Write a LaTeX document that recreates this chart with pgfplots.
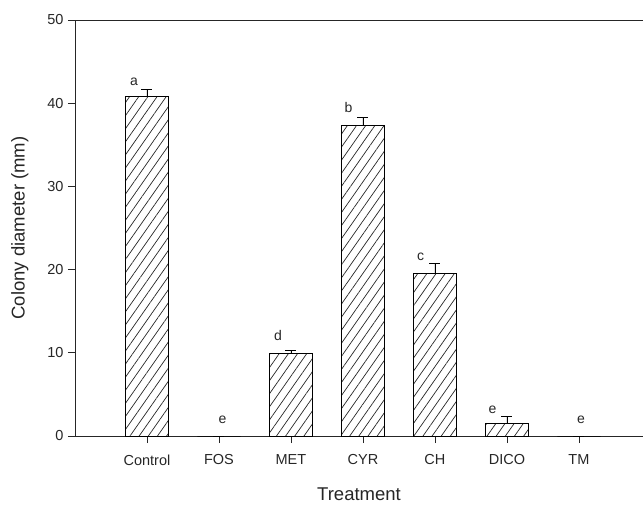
\documentclass[border=0pt]{standalone}
\usepackage{pgfplots}
\pgfplotsset{compat=1.18}
\usetikzlibrary{patterns.meta}
\usepackage{fontspec}
\setmainfont{Liberation Sans}
\begin{document}
\begin{tikzpicture}
\begin{axis}[
  scale only axis,
  width=568pt, height=416pt,
  xmin=-1, xmax=6.89,
  ymin=0, ymax=50,
  axis lines*=left,
  axis line style={line width=0.8pt, black!85},
  xtick={0,1,2,3,4,5,6},
  xticklabels={Control,FOS,MET,CYR,CH,DICO,TM},
  ytick={0,10,20,30,40,50},
  tick align=outside,
  major tick length=7pt,
  tick style={line width=0.7pt, black!85},
  tick label style={font=\fontsize{14.5}{16}\selectfont, text=black!85},
  xticklabel style={yshift=-8pt},
  yticklabel style={xshift=-1pt},
  /pgf/number format/assume math mode=true,
  ylabel={Colony diameter (mm)},
  xlabel={Treatment},
  every axis y label/.style={at={(axis description cs:-0.097,0.5)}, rotate=90, anchor=center, font=\fontsize{18.5}{20}\selectfont, text=black!85},
  every axis x label/.style={at={(axis description cs:0.5,-0.14)}, anchor=center, font=\fontsize{18.5}{20}\selectfont, text=black!85},
  clip=false,
]
\addplot[ybar, bar width=0.6, draw=black, line width=0.8pt,
  pattern={Lines[angle=55,distance=7.5pt,line width=0.7pt]}, pattern color=black!85,
  error bars/.cd, y dir=plus, y explicit, error mark=|,
  error bar style={line width=0.8pt, black},
  error mark options={mark size=5.5pt, line width=0.8pt, black}]
  coordinates {
  (0,40.8) +- (0,0.8)
  (1,0) +- (0,0)
  (2,9.9) +- (0,0.4)
  (3,37.3) +- (0,1.0)
  (4,19.5) +- (0,1.2)
  (5,1.5) +- (0,0.8)
  (6,0) +- (0,0)
  };
\draw[line width=0.8pt, black!85] (rel axis cs:0,1) -- (rel axis cs:1,1);
\begin{scope}[every node/.style={font=\fontsize{14}{16}\selectfont, text=black!85, anchor=center, inner sep=0pt}]
\node at (axis cs:-0.18,42.6) {a};
\node at (axis cs:1.05,2.0) {e};
\node at (axis cs:1.82,12.1) {d};
\node at (axis cs:2.8,39.5) {b};
\node at (axis cs:3.8,21.5) {c};
\node at (axis cs:4.8,3.2) {e};
\node at (axis cs:6.03,2.0) {e};
\end{scope}
\end{axis}
\pgfresetboundingbox
\path (current axis.south west) ++(-75pt,-68pt) rectangle ++(643pt,504pt);
\end{tikzpicture}
\end{document}
